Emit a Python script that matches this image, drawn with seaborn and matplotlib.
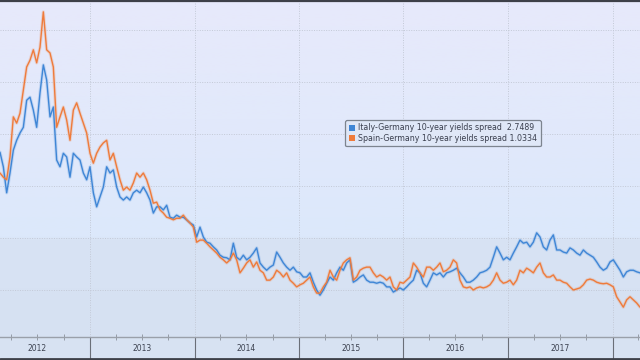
import numpy as np
import pandas as pd
import matplotlib
matplotlib.use("Agg")
import matplotlib.pyplot as plt
import matplotlib.dates as mdates
from matplotlib.lines import Line2D
from matplotlib.patches import Patch
import seaborn as sns

# ---- data (percentage points) ----
start_date = "2012-02-21"
end_date = "2018-04-07"

italy = [
    3.65, 3.37, 2.87, 3.25, 3.69, 3.88, 4.02, 4.13, 4.65, 4.71, 4.46, 4.13, 4.79, 5.33, 5.04, 4.33, 4.52, 3.50, 3.37, 3.63, 3.56, 3.17, 3.63, 3.56,
    3.50, 3.25, 3.12, 3.37, 2.87, 2.60, 2.79, 2.98, 3.37, 3.25, 3.31, 2.98, 2.79, 2.73, 2.79, 2.73, 2.87, 2.92, 2.87, 2.98, 2.87, 2.73, 2.48, 2.60,
    2.60, 2.54, 2.63, 2.40, 2.38, 2.44, 2.40, 2.40, 2.35, 2.29, 2.25, 2.02, 2.21, 2.02, 1.92, 1.90, 1.83, 1.77, 1.67, 1.63, 1.62, 1.58, 1.90, 1.63,
    1.58, 1.67, 1.58, 1.63, 1.71, 1.81, 1.52, 1.44, 1.38, 1.44, 1.48, 1.73, 1.63, 1.52, 1.44, 1.38, 1.44, 1.35, 1.33, 1.25, 1.25, 1.33, 1.15, 1.00,
    0.90, 1.00, 1.13, 1.25, 1.19, 1.33, 1.44, 1.38, 1.52, 1.58, 1.15, 1.19, 1.25, 1.29, 1.19, 1.15, 1.15, 1.13, 1.15, 1.13, 1.06, 1.06, 0.96, 1.00,
    1.04, 1.00, 1.06, 1.13, 1.19, 1.38, 1.33, 1.13, 1.06, 1.19, 1.33, 1.29, 1.33, 1.25, 1.33, 1.35, 1.38, 1.42, 1.33, 1.25, 1.15, 1.15, 1.19, 1.25,
    1.33, 1.35, 1.38, 1.44, 1.63, 1.83, 1.71, 1.58, 1.63, 1.58, 1.71, 1.83, 1.96, 1.90, 1.92, 1.83, 1.92, 2.10, 2.02, 1.83, 1.77, 1.96, 2.06, 1.77,
    1.77, 1.73, 1.71, 1.81, 1.77, 1.71, 1.67, 1.77, 1.71, 1.67, 1.63, 1.54, 1.44, 1.38, 1.42, 1.54, 1.58, 1.48, 1.38, 1.25, 1.35, 1.38, 1.38, 1.35, 1.33,
]

spain = [
    3.25, 3.17, 3.12, 3.56, 4.33, 4.21, 4.40, 4.85, 5.29, 5.42, 5.62, 5.37, 5.67, 6.35, 5.62, 5.56, 5.29, 4.13, 4.33, 4.52, 4.27, 3.88, 4.46, 4.60,
    4.40, 4.21, 4.02, 3.63, 3.44, 3.63, 3.75, 3.83, 3.88, 3.50, 3.63, 3.37, 3.12, 2.92, 2.98, 2.92, 3.06, 3.25, 3.17, 3.25, 3.12, 2.92, 2.67, 2.69,
    2.54, 2.48, 2.40, 2.38, 2.35, 2.38, 2.38, 2.44, 2.35, 2.29, 2.21, 1.92, 1.96, 1.96, 1.90, 1.83, 1.77, 1.71, 1.63, 1.58, 1.52, 1.58, 1.71, 1.58,
    1.33, 1.42, 1.52, 1.58, 1.44, 1.54, 1.38, 1.33, 1.19, 1.19, 1.25, 1.38, 1.33, 1.25, 1.33, 1.19, 1.13, 1.06, 1.10, 1.13, 1.19, 1.25, 1.06, 0.94,
    0.94, 1.06, 1.15, 1.38, 1.25, 1.19, 1.38, 1.52, 1.58, 1.62, 1.19, 1.25, 1.38, 1.42, 1.44, 1.44, 1.33, 1.25, 1.29, 1.25, 1.19, 1.25, 1.06, 1.00,
    1.15, 1.13, 1.19, 1.25, 1.52, 1.44, 1.33, 1.25, 1.44, 1.44, 1.38, 1.44, 1.52, 1.35, 1.38, 1.44, 1.58, 1.52, 1.19, 1.06, 1.04, 1.06, 1.00, 1.04,
    1.06, 1.04, 1.06, 1.10, 1.19, 1.33, 1.19, 1.13, 1.15, 1.19, 1.10, 1.19, 1.38, 1.33, 1.42, 1.38, 1.33, 1.44, 1.52, 1.33, 1.25, 1.25, 1.29, 1.19,
    1.19, 1.15, 1.13, 1.06, 1.00, 1.02, 1.04, 1.10, 1.19, 1.21, 1.19, 1.15, 1.13, 1.12, 1.13, 1.10, 1.06, 0.87, 0.77, 0.67, 0.81, 0.87, 0.81, 0.75, 0.67,
]

series_names = ["Italy-Germany 10-year yields spread", "Spain-Germany 10-year yields spread"]
last_values = ["2.7489", "1.0334"]
year_labels = ["2012", "2013", "2014", "2015", "2016", "2017"]

dates = pd.date_range(start_date, end_date, periods=len(italy))
df = pd.concat([
    pd.DataFrame({"date": dates, "value": italy, "series": series_names[0]}),
    pd.DataFrame({"date": dates, "value": spain, "series": series_names[1]}),
])

blue = "#3f86d6"
orange = "#ef7b3b"
palette = {series_names[0]: blue, series_names[1]: orange}

# ---- figure ----
sns.set_style("white")
fig = plt.figure(figsize=(6.4, 3.6), dpi=100)
fig.patch.set_facecolor("#d7e2f2")
ax = fig.add_axes([0, 23 / 360, 1, 335 / 360])

# background gradient (row 0 = top)
grad_colors = np.array([
    [0xe7, 0xe9, 0xfb],
    [0xe2, 0xe9, 0xfb],
    [0xdc, 0xe8, 0xfb],
    [0xd8, 0xe3, 0xf4],
    [0xd6, 0xe1, 0xf2],
]) / 255.0
stops = np.array([0.0, 0.35, 0.70, 0.71, 1.0])
yy = np.linspace(0, 1, 300)
img = np.stack([np.interp(yy, stops, grad_colors[:, c]) for c in range(3)], axis=-1)
img = img[:, None, :]
ax.imshow(img, extent=[0, 1, 0, 1], origin="upper", transform=ax.transAxes, aspect="auto", zorder=0)

# glow under lines
for name, vals in zip(series_names, [italy, spain]):
    ax.plot(dates, vals, color=palette[name], lw=2.4, alpha=0.2, zorder=2, solid_joinstyle="round")

sns.lineplot(data=df, x="date", y="value", hue="series", palette=palette,
             linewidth=1.0, legend=False, ax=ax, zorder=3)

ax.set_xlim(pd.Timestamp(start_date), pd.Timestamp(end_date))
ax.set_ylim(0.096, 6.54)
ax.set_xlabel("")
ax.set_ylabel("")
ax.set_yticks([1, 2, 3, 4, 5, 6])
ax.tick_params(axis="y", left=False, labelleft=False)

ax.xaxis.set_major_locator(mdates.YearLocator())
ax.xaxis.set_minor_locator(mdates.MonthLocator(bymonth=[4, 7, 10]))
ax.xaxis.set_major_formatter(plt.NullFormatter())
ax.tick_params(axis="x", which="major", bottom=True, direction="out", length=21, width=0.8,
               color="#6a6f78", labelbottom=False)
ax.tick_params(axis="x", which="minor", bottom=True, direction="inout", length=5, width=0.6, color="#8a909a")

ax.grid(True, axis="both", which="major", color="#c3c9d6", linestyle=(0, (1, 1.5)), linewidth=0.7)
for gl in ax.get_xgridlines() + ax.get_ygridlines():
    gl.set_zorder(1)

for s in ["left", "right", "top"]:
    ax.spines[s].set_visible(False)
ax.spines["bottom"].set_color("#9aa0aa")
ax.spines["bottom"].set_linewidth(1.0)

# year labels centred in each year
trans = ax.get_xaxis_transform()
for lab in year_labels:
    ax.text(pd.Timestamp(f"{lab}-07-01"), -0.034, lab, transform=trans, ha="center", va="center",
            fontsize=5.5, color="#3c4250", family="DejaVu Sans")

# legend
handles = [Patch(facecolor=blue, edgecolor="none"), Patch(facecolor=orange, edgecolor="none")]
labels = [f"{series_names[0]}  {last_values[0]}", f"{series_names[1]} {last_values[1]}"]
leg = ax.legend(handles, labels, loc="upper left", bbox_to_anchor=(0.539, 0.648), borderaxespad=0,
                fontsize=5.7, frameon=True, fancybox=True, handlelength=0.8, handleheight=0.8,
                handletextpad=0.4, labelspacing=0.15, borderpad=0.45, labelcolor="#3a3f4e")
leg.get_frame().set_facecolor("#dfe7f7")
leg.get_frame().set_edgecolor("#7d848f")
leg.get_frame().set_linewidth(0.9)
leg.get_frame().set_alpha(1)
leg.set_zorder(5)

# top and bottom dark borders
fig.add_artist(Line2D([0, 1], [1 - 1 / 360, 1 - 1 / 360], transform=fig.transFigure, color="#3d4048", lw=1.6))
fig.add_artist(Line2D([0, 1], [1.5 / 360, 1.5 / 360], transform=fig.transFigure, color="#3d4048", lw=2.0))

fig.savefig("out.png", dpi=100, facecolor=fig.get_facecolor())
